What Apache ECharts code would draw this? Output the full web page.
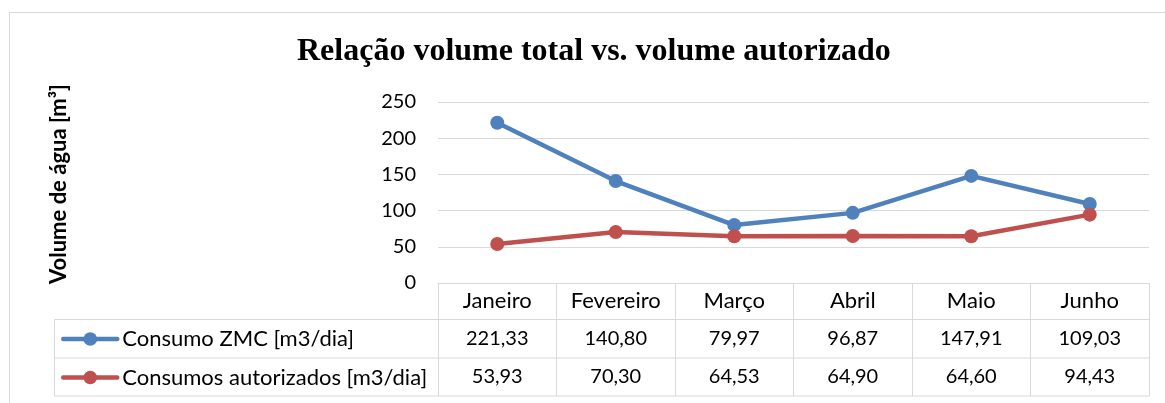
<!DOCTYPE html>
<html>
<head>
<meta charset="utf-8">
<script src="https://cdn.jsdelivr.net/npm/echarts@6/dist/echarts.min.js"></script>
<style>
  html, body { margin: 0; padding: 0; background: #ffffff; }
  #chart { width: 1165px; height: 403px; }
</style>
</head>
<body>
<div id="chart"></div>
<script>
// Monthly water volumes (m3/dia)
const months = ['Janeiro', 'Fevereiro', 'Março', 'Abril', 'Maio', 'Junho'];
const consumoZMC = [221.33, 140.80, 79.97, 96.87, 147.91, 109.03];
const consumosAutorizados = [53.93, 70.30, 64.53, 64.90, 64.60, 94.43];
const seriesNames = ['Consumo ZMC [m3/dia]', 'Consumos autorizados [m3/dia]'];
const yMin = 0, yMax = 250, yStep = 50;
const titleText = 'Relação volume total vs. volume autorizado';
const yAxisTitle = 'Volume de água [m³]';

const BLUE = '#4F81BD';
const RED = '#C0504D';
const GRID_GRAY = '#D9D9D9';
const FONT = 'Lato, "Open Sans", sans-serif';
const WORD_SIZE = 22;   // text labels
const NUM_SIZE = 20;    // numeric labels

// table rows below the plot (header row holds the month labels)
const ROW_TOP = 283;      // x axis / top of header row
const ROW1_TOP = 319.5;
const ROW2_TOP = 358;
const ROW_BOTTOM = 396;
const TABLE_LEFT = 54.5;

const fmt = v => v.toFixed(2).replace('.', ',');

const chart = echarts.init(document.getElementById('chart'), null, { renderer: 'canvas' });

function legendFor(name, top) {
  return {
    data: [name],
    left: 61,
    top: top,
    padding: 0,
    orient: 'vertical',
    selectedMode: false,
    itemWidth: 54,
    itemHeight: 17,
    itemGap: 4,
    lineStyle: { width: 4.5, cap: 'round' },
    textStyle: { fontFamily: FONT, fontSize: WORD_SIZE, color: '#000' }
  };
}

const option = {
  animation: false,
  backgroundColor: '#ffffff',
  title: {
    text: titleText,
    left: 297,
    top: 36,
    padding: 0,
    textStyle: {
      fontFamily: '"Liberation Serif", "Times New Roman", serif',
      fontWeight: 'bold',
      fontSize: 32,
      color: '#000'
    }
  },
  legend: [
    legendFor(seriesNames[0], 328),
    legendFor(seriesNames[1], 366.5)
  ],
  grid: { left: 438, right: 16, top: 102, bottom: 403 - ROW_TOP },
  xAxis: {
    type: 'category',
    data: months,
    boundaryGap: true,
    axisLine: { show: true, lineStyle: { color: GRID_GRAY, width: 1 } },
    axisTick: { show: true, alignWithLabel: false, length: ROW_BOTTOM - ROW_TOP, lineStyle: { color: GRID_GRAY, width: 1 } },
    axisLabel: { margin: 7, fontFamily: FONT, fontSize: WORD_SIZE, color: '#000' },
    splitLine: { show: false }
  },
  yAxis: {
    type: 'value',
    min: yMin,
    max: yMax,
    interval: yStep,
    axisLine: { show: false },
    axisTick: { show: false },
    axisLabel: { margin: 22, fontFamily: FONT, fontSize: NUM_SIZE, color: '#000' },
    splitLine: { show: true, lineStyle: { color: GRID_GRAY, width: 1 } }
  },
  series: [
    {
      name: seriesNames[0],
      type: 'line',
      data: consumoZMC,
      color: BLUE,
      symbol: 'circle',
      symbolSize: 14,
      lineStyle: { width: 4.5, color: BLUE },
      itemStyle: { color: BLUE },
      z: 3
    },
    {
      name: seriesNames[1],
      type: 'line',
      data: consumosAutorizados,
      color: RED,
      symbol: 'circle',
      symbolSize: 14,
      lineStyle: { width: 4.5, color: RED },
      itemStyle: { color: RED },
      z: 4
    }
  ]
};

chart.setOption(option);

// Build the data table cells and rules from the category axis positions
const centers = months.map((m, i) => chart.convertToPixel({ xAxisIndex: 0 }, i));
const half = (centers[1] - centers[0]) / 2;
const tableRight = Math.round(centers[centers.length - 1] + half) + 0.5;

const graphics = [];
// outer chart frame
graphics.push({
  type: 'rect',
  shape: { x: 9.5, y: 12.5, width: 1300, height: 600 },
  style: { fill: null, stroke: GRID_GRAY, lineWidth: 1 },
  silent: true
});
// horizontal rules of the table body
[ROW1_TOP, ROW2_TOP, ROW_BOTTOM].forEach(y => {
  graphics.push({
    type: 'line',
    shape: { x1: TABLE_LEFT, y1: y, x2: tableRight, y2: y },
    style: { stroke: GRID_GRAY, lineWidth: 1 },
    silent: true
  });
});
// left edge of the legend column
graphics.push({
  type: 'line',
  shape: { x1: TABLE_LEFT, y1: ROW1_TOP, x2: TABLE_LEFT, y2: ROW_BOTTOM },
  style: { stroke: GRID_GRAY, lineWidth: 1 },
  silent: true
});
// value cells
[consumoZMC, consumosAutorizados].forEach((values, r) => {
  const yMid = r === 0 ? (ROW1_TOP + ROW2_TOP) / 2 : (ROW2_TOP + ROW_BOTTOM) / 2;
  values.forEach((v, i) => {
    graphics.push({
      type: 'text',
      x: centers[i],
      y: yMid,
      style: {
        text: fmt(v),
        fontFamily: FONT,
        fontSize: NUM_SIZE,
        fill: '#000',
        align: 'center',
        verticalAlign: 'middle'
      },
      silent: true
    });
  });
});
// vertical axis title
graphics.push({
  type: 'text',
  x: 59,
  y: 184,
  rotation: Math.PI / 2,
  style: {
    text: yAxisTitle,
    fontFamily: FONT,
    fontSize: WORD_SIZE,
    fontWeight: 'bold',
    fill: '#000',
    align: 'center',
    verticalAlign: 'middle'
  },
  silent: true
});

chart.setOption({ graphic: graphics });
</script>
</body>
</html>
